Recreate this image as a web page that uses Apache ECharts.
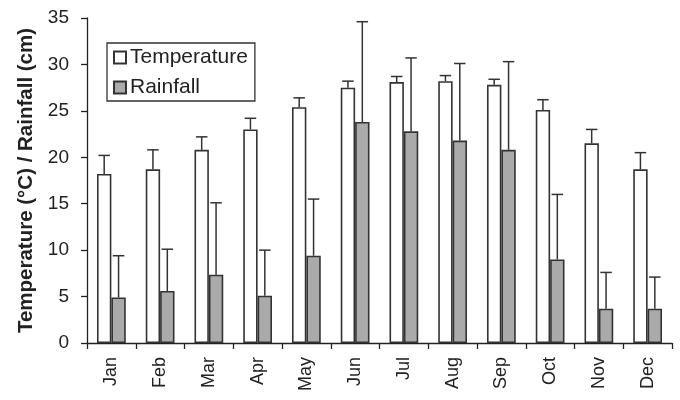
<!DOCTYPE html>
<html><head><meta charset="utf-8">
<script src="https://cdn.jsdelivr.net/npm/echarts@6/dist/echarts.min.js"></script>
<style>html,body{margin:0;padding:0;background:#fff}#c{width:680px;height:400px}</style>
</head><body><div id="c"></div>
<script>
const months = ['Jan','Feb','Mar','Apr','May','Jun','Jul','Aug','Sep','Oct','Nov','Dec'];
const temperature = [18.2, 18.7, 20.8, 23.0, 25.4, 27.5, 28.1, 28.2, 27.8, 25.1, 21.5, 18.7];
const temperatureUpper = [20.2, 20.8, 22.2, 24.2, 26.4, 28.2, 28.7, 28.8, 28.4, 26.2, 23.0, 20.5];
const rainfall = [4.9, 5.6, 7.35, 5.1, 9.4, 23.8, 22.8, 21.8, 20.8, 9.0, 3.7, 3.7];
const rainfallUpper = [9.4, 10.1, 15.1, 10.0, 15.5, 34.6, 30.7, 30.1, 30.3, 16.0, 7.6, 7.1];
const yTicks = [0, 5, 10, 15, 20, 25, 30, 35];

const GAP = 0.41;
const dark = '#333';
function errRender(sign){
  return function(params, api){
    const i = api.value(0);
    const base = api.coord([i, api.value(1)]);
    const top = api.coord([i, api.value(2)]);
    const band = api.size([1, 0])[0];
    const bw = band * (1 - GAP) / 2;
    const x = base[0] + sign * bw / 2;
    const half = bw * 0.4;
    return {type:'group', children:[
      {type:'line', shape:{x1:x, y1:base[1], x2:x, y2:top[1]}, style:{stroke:dark, lineWidth:1.5}},
      {type:'line', shape:{x1:x-half, y1:top[1], x2:x+half, y2:top[1]}, style:{stroke:dark, lineWidth:1.5}}
    ]};
  };
}
const chart = echarts.init(document.getElementById('c'));
chart.setOption({
  animation:false,
  textStyle:{fontFamily:'Liberation Sans, Arial, sans-serif'},
  grid:{left:87, right:8, top:18, bottom:57},
  legend:{
    left:107, top:43, orient:'vertical', padding:[4,7,3,6],
    borderColor:dark, borderWidth:1.3, itemGap:9,
    itemWidth:12, itemHeight:12, icon:'rect',
    textStyle:{fontSize:21, lineHeight:21, color:'#222', fontFamily:'Liberation Sans, Arial, sans-serif', padding:[0,0,0,-1]},
    data:['Temperature','Rainfall']
  },
  xAxis:{
    type:'category', data:months,
    axisLine:{lineStyle:{color:'#222', width:1.3}},
    axisTick:{show:true, length:6, lineStyle:{color:'#222', width:1.3}},
    axisLabel:{rotate:90, fontSize:18, color:'#222', margin:14}
  },
  yAxis:{
    type:'value', min:0, max:35, interval:5,
    name:'Temperature (°C) / Rainfall (cm)', nameLocation:'middle', nameGap:50,
    nameTextStyle:{fontSize:20.5, fontWeight:'bold', color:'#222'},
    splitLine:{show:false},
    axisLine:{show:true, lineStyle:{color:'#222', width:1.3}},
    axisTick:{show:true, length:6, lineStyle:{color:'#222', width:1.3}},
    axisLabel:{fontSize:19, color:'#222', margin:18}
  },
  series:[
    {name:'Temperature', type:'bar', data:temperature, barGap:'0%', barCategoryGap:(GAP*100)+'%',
     itemStyle:{color:'#fff', borderColor:dark, borderWidth:1.6}},
    {name:'Rainfall', type:'bar', data:rainfall,
     itemStyle:{color:'#aaaaaa', borderColor:dark, borderWidth:1.6}},
    {type:'custom', renderItem:errRender(-1), z:1,
     data:months.map((m,i)=>[i, temperature[i], temperatureUpper[i]]), encode:{x:0, y:[1,2]}},
    {type:'custom', renderItem:errRender(1), z:1,
     data:months.map((m,i)=>[i, rainfall[i], rainfallUpper[i]]), encode:{x:0, y:[1,2]}}
  ]
});
</script></body></html>
